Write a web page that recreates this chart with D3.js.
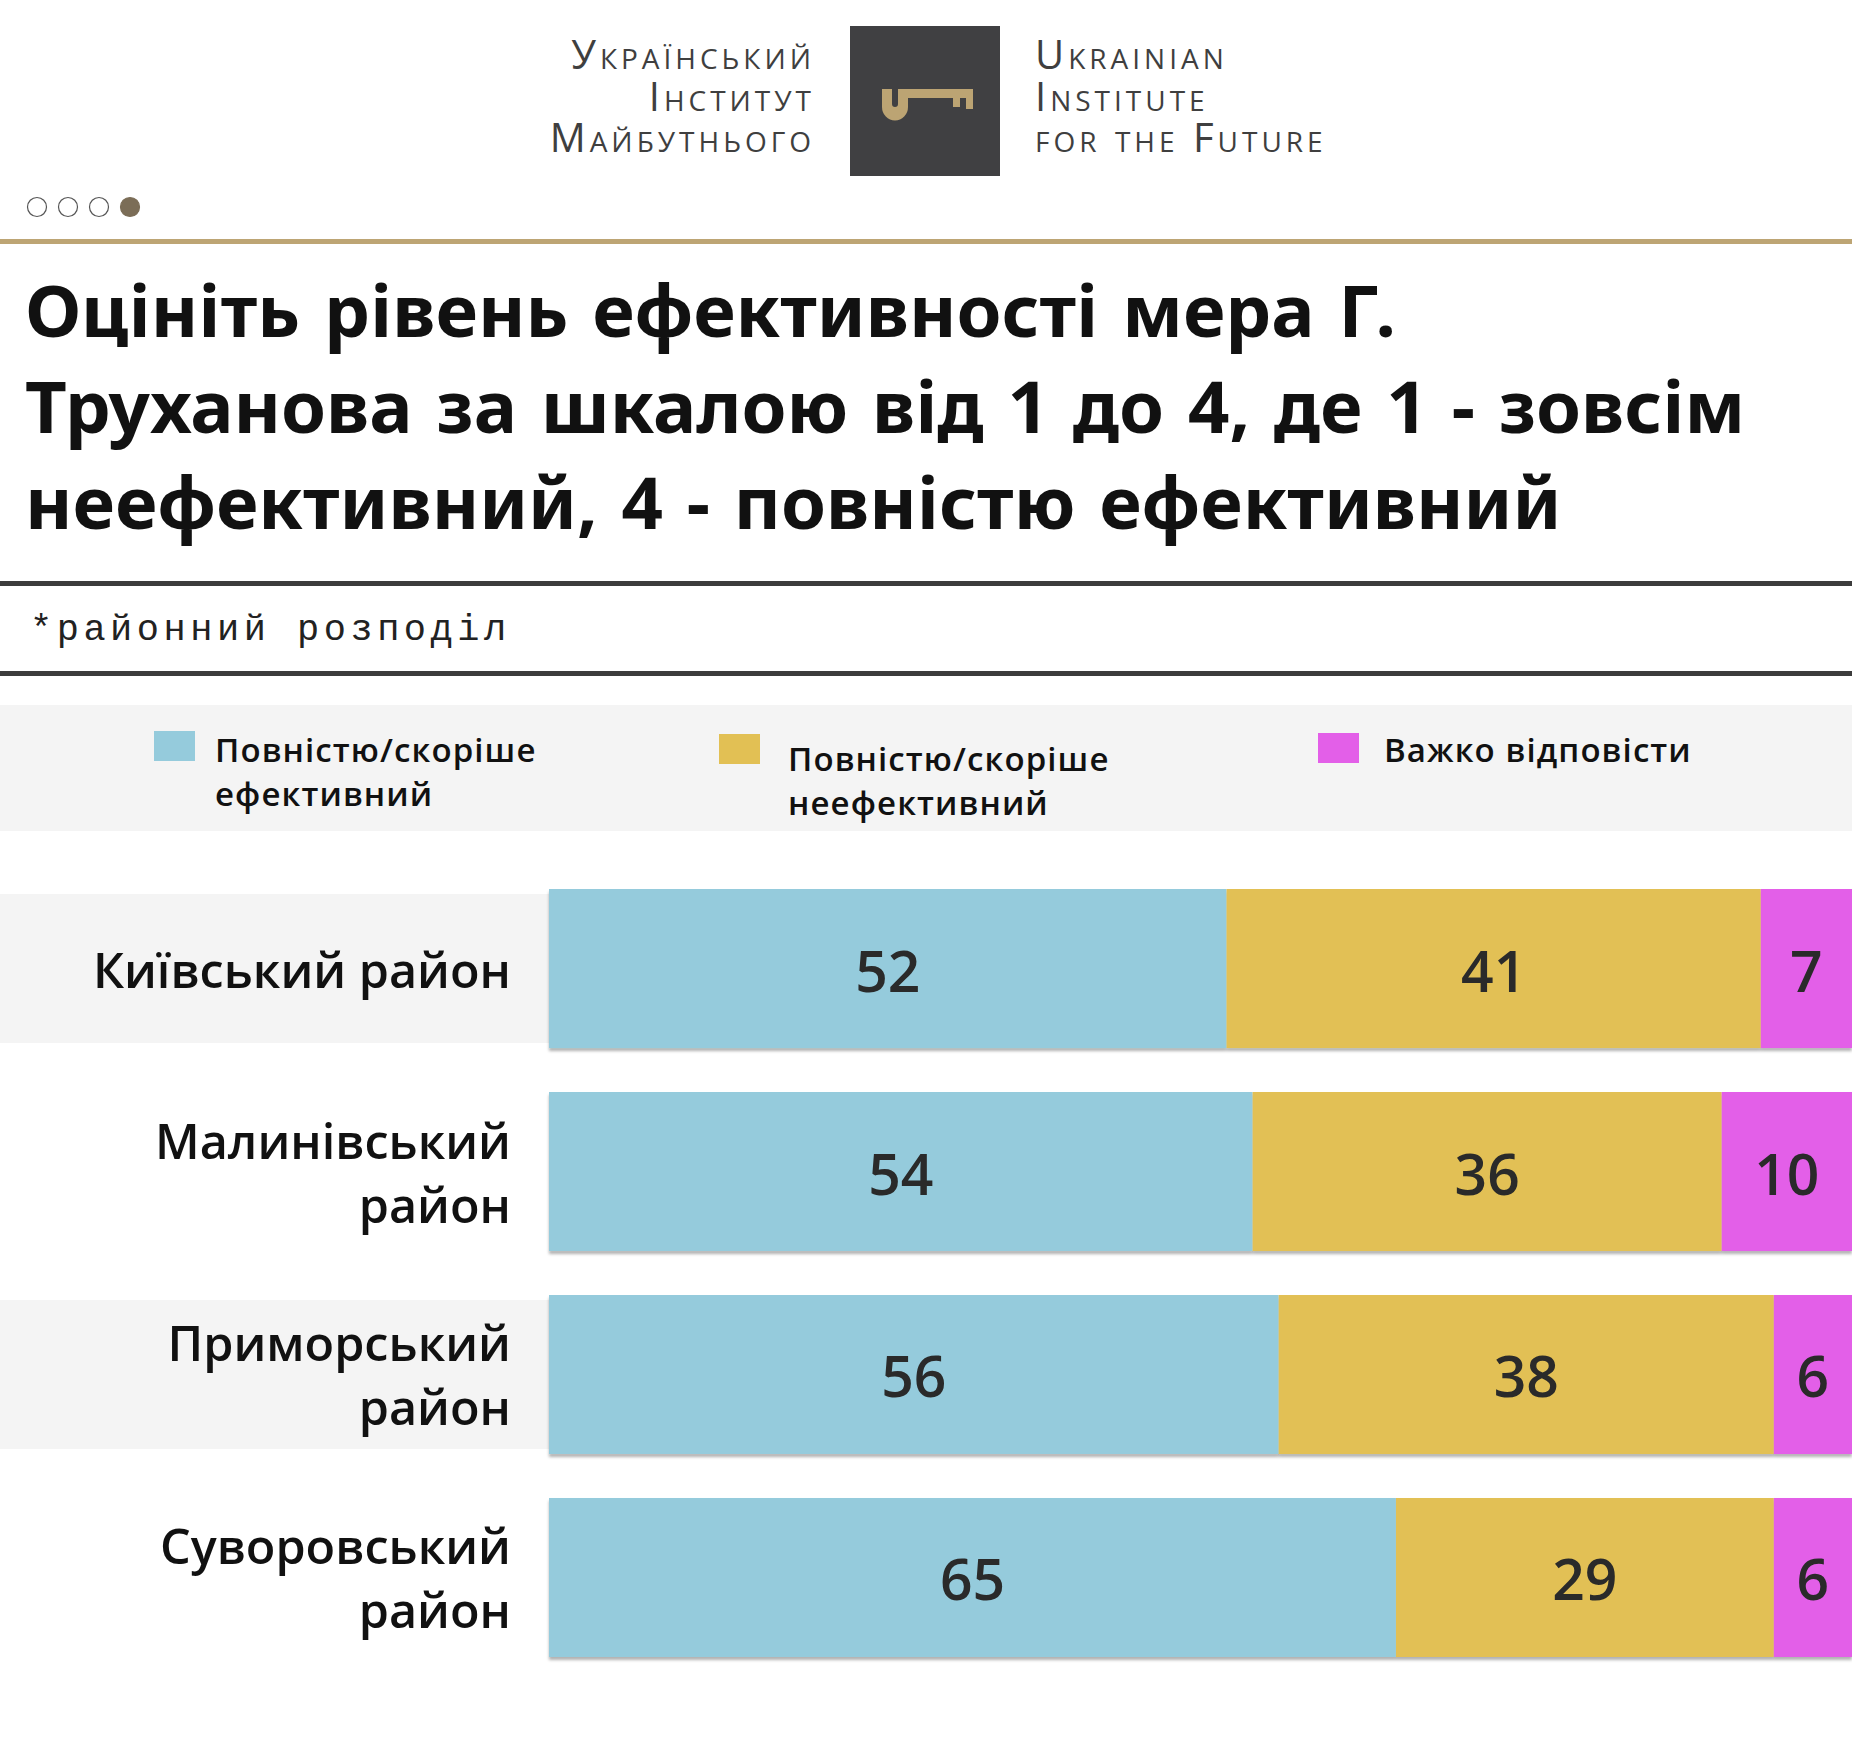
<!DOCTYPE html>
<html>
<head>
<meta charset="utf-8">
<script src="https://cdn.jsdelivr.net/npm/d3@7"></script>
<style>
  body { margin: 0; background: #fff; }
  svg { display: block; }
</style>
</head>
<body>
<script>
// ---------- DATA ----------
var districts = ["Київський район", "Малинівський район", "Приморський район", "Суворовський район"];
var districtLines = [["Київський район"], ["Малинівський", "район"], ["Приморський", "район"], ["Суворовський", "район"]];
var effective   = [52, 54, 56, 65];
var ineffective = [41, 36, 38, 29];
var hardToSay   = [7, 10, 6, 6];

var seriesNames = ["Повністю/скоріше ефективний", "Повністю/скоріше неефективний", "Важко відповісти"];
var legendLines = [["Повністю/скоріше", "ефективний"], ["Повністю/скоріше", "неефективний"], ["Важко відповісти"]];
var colors = ["#95cbdc", "#e2c054", "#e35fe8"];

var titleLines = [
  "Оцініть рівень ефективності мера Г.",
  "Труханова за шкалою від 1 до 4, де 1 - зовсім",
  "неефективний, 4 - повністю ефективний"
];
var subtitle = "*районний розподіл";
var logoUa = ["Український", "Інститут", "Майбутнього"];
var logoEn = ["Ukrainian", "Institute", "for the Future"];

// ---------- DIMENSIONS ----------
var w = 1852, h = 1739;
var barLeft = 549, barRight = 1852;
var barTop = 889, barBottom = 1657;
var labelRight = 511;

var svg = d3.select("body").append("svg")
  .attr("width", w)
  .attr("height", h);

var defs = svg.append("defs");
var shadow = defs.append("filter").attr("id", "shadow")
  .attr("x", "-5%").attr("y", "-10%").attr("width", "110%").attr("height", "130%");
shadow.append("feDropShadow")
  .attr("dx", 0).attr("dy", 3)
  .attr("stdDeviation", 1.5)
  .attr("flood-color", "#000")
  .attr("flood-opacity", 0.3);

// ---------- HEADER / LOGO ----------
svg.append("rect")
  .attr("x", 850).attr("y", 26)
  .attr("width", 150).attr("height", 150)
  .attr("fill", "#404042");

// key glyph
svg.append("path")
  .attr("d", "M882,89 h10 v15 a3,3 0 0 0 6,0 v-15 h75 v20 h-7 v-11 h-6 v9 h-7 v-9 h-45 v9 a12.5,13 0 0 1 -26,0 z")
  .attr("fill", "#bca473");

var logoFont = "'Open Sans', sans-serif";
svg.append("g").selectAll("text")
  .data(logoUa)
  .join("text")
  .attr("x", 815)
  .attr("y", (d, i) => 69 + i * 41.5)
  .attr("text-anchor", "end")
  .attr("font-family", logoFont)
  .attr("font-size", 40)
  .attr("font-weight", 500)
  .attr("letter-spacing", 4)
  .style("font-variant", "small-caps")
  .attr("fill", "#3f3f3f")
  .text(d => d);

svg.append("g").selectAll("text")
  .data(logoEn)
  .join("text")
  .attr("x", 1035)
  .attr("y", (d, i) => 69 + i * 41.5)
  .attr("font-family", logoFont)
  .attr("font-size", 40)
  .attr("font-weight", 500)
  .attr("letter-spacing", 4)
  .style("font-variant", "small-caps")
  .attr("fill", "#3f3f3f")
  .text(d => d);

// page dots
svg.append("g").selectAll("circle")
  .data([0, 1, 2, 3])
  .join("circle")
  .attr("cx", d => 37 + d * 31)
  .attr("cy", 207)
  .attr("r", 9.5)
  .attr("fill", d => d === 3 ? "#7b6d57" : "#fff")
  .attr("stroke", d => d === 3 ? "#7b6d57" : "#555")
  .attr("stroke-width", 1.2);

// gold rule
svg.append("rect")
  .attr("x", 0).attr("y", 239)
  .attr("width", w).attr("height", 5)
  .attr("fill", "#bda574");

// ---------- TITLE ----------
svg.append("g").selectAll("text")
  .data(titleLines)
  .join("text")
  .attr("x", 25)
  .attr("y", (d, i) => 337 + i * 96)
  .attr("font-family", "'Noto Sans', sans-serif")
  .attr("font-weight", 700)
  .attr("font-size", 72.5)
  .attr("word-spacing", 5)
  .attr("fill", "#111")
  .text(d => d);

svg.append("rect").attr("x", 0).attr("y", 581).attr("width", w).attr("height", 5).attr("fill", "#3c3c3c");
svg.append("rect").attr("x", 0).attr("y", 671).attr("width", w).attr("height", 5).attr("fill", "#3c3c3c");

svg.append("text")
  .attr("x", 30)
  .attr("y", 640)
  .attr("font-family", "'Liberation Mono', 'DejaVu Sans Mono', monospace")
  .attr("font-size", 37)
  .attr("letter-spacing", 4.5)
  .attr("fill", "#222")
  .text(subtitle);

// ---------- LEGEND ----------
svg.append("rect")
  .attr("x", 0).attr("y", 705)
  .attr("width", w).attr("height", 126)
  .attr("fill", "#f4f4f4");

var legendX = [154, 719, 1318];
var legendY = [731, 734, 733];
var legendTextX = [215, 788, 1384];
var legendTextY = [762, 771, 762];

var legend = svg.append("g").selectAll("g")
  .data(seriesNames)
  .join("g");

legend.append("rect")
  .attr("x", (d, i) => legendX[i])
  .attr("y", (d, i) => legendY[i])
  .attr("width", 41)
  .attr("height", 30)
  .attr("fill", (d, i) => colors[i]);

legend.each(function (d, i) {
  d3.select(this).selectAll("text")
    .data(legendLines[i])
    .join("text")
    .attr("x", legendTextX[i])
    .attr("y", (t, j) => legendTextY[i] + j * 43.5)
    .attr("font-family", "'Open Sans', sans-serif")
    .attr("font-weight", 600)
    .attr("font-size", 33)
    .attr("letter-spacing", 1.1)
    .attr("fill", "#111")
    .text(t => t);
});

// ---------- BARS ----------
var x = d3.scaleLinear().domain([0, 100]).range([barLeft, barRight]);
var y = d3.scaleBand().domain(districts).range([barTop, barBottom]).paddingInner(0.2167);

var rows = districts.map((name, i) => ({
  name: name,
  lines: districtLines[i],
  index: i,
  values: [effective[i], ineffective[i], hardToSay[i]]
}));

// row background bands (alternating)
svg.append("g").selectAll("rect")
  .data(rows.filter(r => r.index % 2 === 0))
  .join("rect")
  .attr("x", 0)
  .attr("y", d => y(d.name) + 5)
  .attr("width", barLeft)
  .attr("height", y.bandwidth() - 10)
  .attr("fill", "#f4f4f4");

var stack = d3.stack().keys([0, 1, 2]).value((d, k) => d.values[k]);
var stacked = stack(rows);

var barG = svg.append("g").attr("filter", "url(#shadow)");
barG.selectAll("g")
  .data(stacked)
  .join("g")
  .attr("fill", (s, k) => colors[k])
  .selectAll("rect")
  .data(s => s)
  .join("rect")
  .attr("x", d => x(d[0]))
  .attr("y", d => y(d.data.name))
  .attr("width", d => x(d[1]) - x(d[0]))
  .attr("height", y.bandwidth());

// value labels
var valG = svg.append("g");
stacked.forEach(function (s) {
  valG.selectAll(null)
    .data(s)
    .join("text")
    .attr("x", d => (x(d[0]) + x(d[1])) / 2)
    .attr("y", d => y(d.data.name) + y.bandwidth() / 2 + 23)
    .attr("text-anchor", "middle")
    .attr("font-family", "'Open Sans', sans-serif")
    .attr("font-weight", 600)
    .attr("font-size", 57)
    .attr("fill", "#2a2a2a")
    .text(d => d[1] - d[0]);
});

// category labels
var labG = svg.append("g");
rows.forEach(function (r) {
  var cy = y(r.name) + y.bandwidth() / 2;
  var n = r.lines.length;
  labG.selectAll(null)
    .data(r.lines)
    .join("text")
    .attr("x", labelRight)
    .attr("y", (t, j) => cy + 19 + (j - (n - 1) / 2) * 64)
    .attr("text-anchor", "end")
    .attr("font-family", "'Open Sans', sans-serif")
    .attr("font-weight", 600)
    .attr("font-size", 48.5)
    .attr("fill", "#111")
    .text(t => t);
});
</script>
</body>
</html>
